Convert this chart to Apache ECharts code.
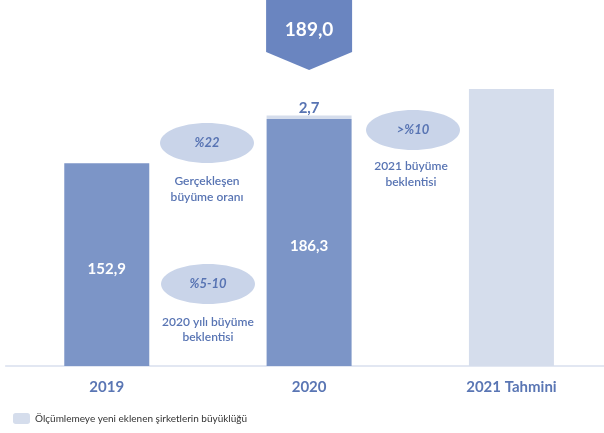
<!DOCTYPE html>
<html>
<head>
<meta charset="utf-8">
<script src="https://cdn.jsdelivr.net/npm/echarts@6/dist/echarts.min.js"></script>
<style>
html,body{margin:0;padding:0;background:#fff;overflow:hidden;}
#c{width:614px;height:433px;}
</style>
</head>
<body>
<div id="c"></div>
<script>
const categories = ['2019', '2020', '2021 Tahmini'];
const measured = [152.9, 186.3, null];
const newCompanies = [null, 2.7, null];
const forecast = [null, null, 209];
const totalLabel = '189,0';
const legendName = 'Ölçümlemeye yeni eklenen şirketlerin büyüklüğü';

const DARK = '#7c95c7';
const LIGHT = '#d5ddec';
const CALLOUT = '#6a85c0';
const ELL = '#c9d4e9';
const TXT = '#5874b3';
const FONT = 'Lato, "Open Sans", sans-serif';

const fmt = v => String(v).replace('.', ',');

const chart = echarts.init(document.getElementById('c'), null, {renderer: 'canvas'});
chart.setOption({
  animation: false,
  backgroundColor: '#fff',
  textStyle: {fontFamily: FONT},
  grid: {left: 5.6, width: 607, top: 34.6, bottom: 67, containLabel: false},
  legend: {
    data: [legendName], left: 8, top: 408, itemWidth: 17, itemHeight: 11, itemGap: 6,
    textStyle: {fontSize: 10, color: '#333', fontFamily: FONT}, selectedMode: false
  },
  xAxis: {
    type: 'category', data: categories,
    axisLine: {lineStyle: {color: '#d9e0ee', width: 1.5}},
    axisTick: {show: false},
    axisLabel: {margin: 14, fontSize: 15, fontWeight: 'bold', color: '#5a76b4', fontFamily: FONT}
  },
  yAxis: {type: 'value', min: 0, max: 250, show: false, splitLine: {show: false}},
  series: [
    {
      name: 'measured', type: 'bar', stack: 's', data: measured, barWidth: 85,
      itemStyle: {color: DARK},
      label: {show: true, position: 'inside', offset: [0, 4], color: '#fff', fontSize: 15, fontWeight: 'bold',
        fontFamily: FONT, formatter: p => fmt(p.value)}
    },
    {
      name: legendName, type: 'bar', stack: 's', data: newCompanies, barWidth: 85,
      itemStyle: {color: LIGHT},
      label: {show: true, position: 'top', distance: 0, color: TXT, fontSize: 15, fontWeight: 'bold',
        fontFamily: FONT, formatter: p => fmt(p.value)}
    },
    {
      name: 'forecast', type: 'bar', stack: 's', data: forecast, barWidth: 85,
      itemStyle: {color: LIGHT}
    }
  ]
});

// Annotations
const cx2020 = chart.convertToPixel({xAxisIndex: 0}, '2020');
const half = 43;
const txt = (x, y, s) => ({
  type: 'text', x: x, y: y,
  style: {text: s, fill: TXT, font: '600 12px ' + FONT, align: 'center', verticalAlign: 'middle'}
});
const ell = (cx, cy, label) => [
  {type: 'ellipse', shape: {cx: cx, cy: cy, rx: 47, ry: 20}, style: {fill: ELL}},
  {type: 'text', x: cx, y: cy, style: {text: label, fill: TXT, font: 'italic bold 13px ' + FONT, align: 'center', verticalAlign: 'middle'}}
];

chart.setOption({
  graphic: [
    {type: 'polygon', shape: {points: [[cx2020 - half, 0], [cx2020 + half, 0], [cx2020 + half, 52], [cx2020, 70], [cx2020 - half, 52]]},
      style: {fill: CALLOUT}},
    {type: 'text', x: cx2020, y: 30, style: {text: totalLabel, fill: '#fff', font: 'bold 19px ' + FONT, align: 'center', verticalAlign: 'middle'}},
    ...ell(207, 143, '%22'),
    txt(207, 181, 'Gerçekleşen'),
    txt(207, 197, 'büyüme oranı'),
    ...ell(208, 284, '%5-10'),
    txt(208, 322, '2020 yılı büyüme'),
    txt(208, 337, 'beklentisi'),
    ...ell(413, 130, '>%10'),
    txt(411, 166, '2021 büyüme'),
    txt(411, 182, 'beklentisi')
  ]
});
</script>
</body>
</html>
